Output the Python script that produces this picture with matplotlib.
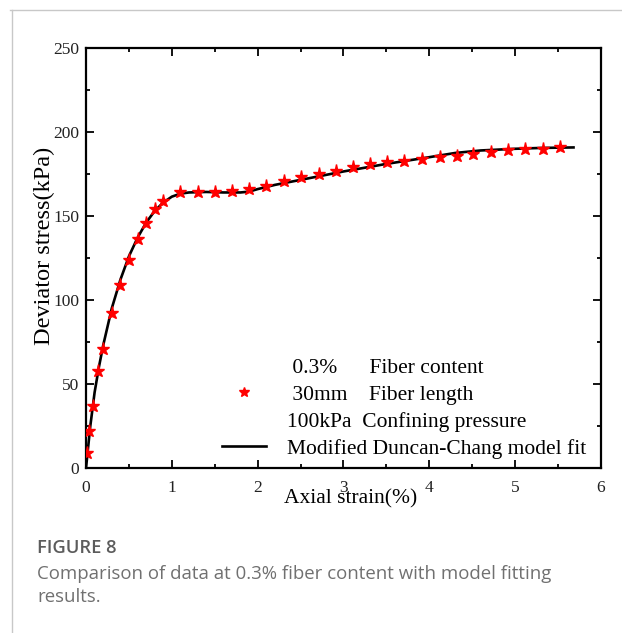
import matplotlib
matplotlib.use("Agg")
import matplotlib.pyplot as plt
from matplotlib.lines import Line2D

# measured points (strain %, deviator stress kPa)
strain_pts = [0.01, 0.04, 0.08, 0.14, 0.2, 0.3, 0.4, 0.5, 0.6, 0.7, 0.8, 0.9,
              1.1, 1.3, 1.5, 1.7, 1.9, 2.1, 2.31, 2.51, 2.71, 2.91, 3.11, 3.31,
              3.51, 3.71, 3.92, 4.12, 4.32, 4.51, 4.72, 4.92, 5.12, 5.32, 5.52]
stress_pts = [9, 22, 37, 58, 71, 92, 109, 124, 136, 146, 154, 159,
              164, 164, 164, 165, 166, 168, 171, 173, 175, 177, 179, 181,
              182, 183, 184, 185, 186, 187, 188, 189, 190, 190, 191]

# modified Duncan-Chang fit curve
fit_strain = [0, 0.02, 0.05, 0.1, 0.15, 0.2, 0.25, 0.3, 0.4, 0.5, 0.6, 0.7,
              0.8, 0.9, 1.0, 1.1, 1.2, 1.4, 1.6, 1.8, 1.9, 2.0, 2.2, 2.5,
              3.0, 3.5, 4.0, 4.3, 4.6, 5.0, 5.3, 5.68]
fit_stress = [0, 10, 25, 45, 60, 73, 84, 95, 112, 126, 137, 146,
              153, 158, 161.5, 163.3, 164, 164.3, 164, 164, 164.5, 166, 168.5, 171.5,
              176.5, 181, 185, 187.5, 189, 190, 190.5, 190.8]

x_ticks = [0, 1, 2, 3, 4, 5, 6]
y_ticks = [0, 50, 100, 150, 200, 250]

plt.rcParams['font.family'] = ['Liberation Serif', 'DejaVu Serif']

fig = plt.figure(figsize=(6.22, 6.33), dpi=100)
ax = fig.add_axes([0.1383, 0.2607, 0.8279, 0.6635])

ax.plot(fit_strain, fit_stress, color='black', lw=1.9, zorder=2)
ax.plot(strain_pts, stress_pts, linestyle='none', marker='*', color='red',
        markersize=9.5, zorder=3)

ax.set_xlim(0, 6)
ax.set_ylim(0, 250)
ax.set_xticks(x_ticks)
ax.set_yticks(y_ticks)
ax.set_xticks([0.5, 1.5, 2.5, 3.5, 4.5, 5.5], minor=True)
ax.set_yticks([25, 75, 125, 175, 225], minor=True)
ax.tick_params(which='both', direction='in', top=True, right=True, width=1.3,
               color='black')
ax.tick_params(which='major', length=6, labelsize=12.5, labelcolor='#222222')
ax.tick_params(axis='x', which='major', pad=9)
ax.tick_params(axis='y', which='major', pad=5)
ax.tick_params(which='minor', length=3)
for s in ax.spines.values():
    s.set_linewidth(1.6)

ax.set_xlabel('Axial strain(%)', fontsize=15.5)
ax.xaxis.set_label_coords(0.514, -0.05)
ax.set_ylabel('Deviator stress(kPa)', fontsize=17.5)
ax.yaxis.set_label_coords(-0.06, 0.53)

blank = Line2D([], [], linestyle='none')
star = Line2D([], [], linestyle='none', marker='*', color='red', markersize=7.5)
line = Line2D([], [], color='black', lw=1.9)
labels = [' 0.3%      Fiber content',
          ' 30mm    Fiber length',
          '100kPa  Confining pressure',
          'Modified Duncan-Chang model fit']
ax.legend([blank, star, blank, line], labels, loc='lower left',
          bbox_to_anchor=(0.265, 0.022), frameon=False, fontsize=15.5,
          borderpad=0, borderaxespad=0, handlelength=2.0, handletextpad=1.0,
          labelspacing=0.32)

# card border
fig.add_artist(Line2D([10 / 622, 1], [1 - 9.5 / 633, 1 - 9.5 / 633],
                      color='#c8c8c8', lw=1))
fig.add_artist(Line2D([12 / 622, 12 / 622], [0, 1 - 9.5 / 633],
                      color='#c8c8c8', lw=1))

fig.text(37 / 622, 1 - 548 / 633, 'FIGURE 8', fontsize=13.2, color='#5c5c5c',
         family='Open Sans', fontweight='semibold', va='center')
fig.text(37 / 622, 1 - 574 / 633,
         'Comparison of data at 0.3% fiber content with model fitting',
         fontsize=13.4, color='#707070', family='Open Sans', va='center')
fig.text(37 / 622, 1 - 597 / 633, 'results.', fontsize=13.4, color='#707070',
         family='Open Sans', va='center')

fig.savefig('out.png', dpi=100)
